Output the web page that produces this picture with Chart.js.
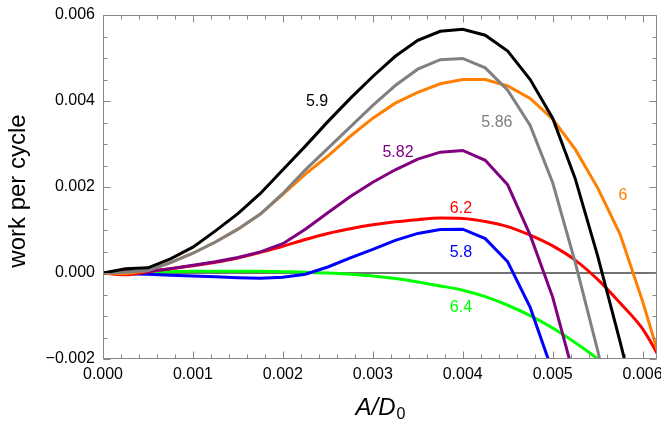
<!DOCTYPE html>
<html><head><meta charset="utf-8">
<script src="https://cdn.jsdelivr.net/npm/chart.js@4/dist/chart.umd.min.js"></script>
<style>html,body{margin:0;padding:0;background:#fff}</style>
</head><body>
<canvas id="c" width="661" height="424"></canvas>
<script>
// ---- data ----
const xValues = [0,0.00025,0.0005,0.00075,0.001,0.00125,0.0015,0.00175,0.002,0.00225,0.0025,0.00275,0.003,0.00325,0.0035,0.00375,0.004,0.00425,0.0045,0.00475,0.005,0.00525,0.0055,0.00575,0.006,0.00625];
const series5_9  = [0,0.0001,0.00012,0.00033,0.0006,0.00098,0.00138,0.00185,0.0024,0.00295,0.00352,0.00406,0.00457,0.00504,0.00541,0.00562,0.00567,0.00553,0.00516,0.0045,0.0036,0.0022,0.0004,-0.0016,-0.0037,null];
const series5_86 = [0,0.00002,0.00006,0.00024,0.00046,0.00072,0.00102,0.00137,0.00185,0.0024,0.0029,0.0034,0.0039,0.00436,0.00474,0.00496,0.00499,0.00477,0.00425,0.00343,0.0021,0.00025,-0.0018,-0.0042,null,null];
const series6    = [0,-0.00002,0.00006,0.00024,0.00046,0.00072,0.00102,0.00137,0.00183,0.0023,0.00272,0.00318,0.0036,0.00395,0.0042,0.0044,0.0045,0.0045,0.00435,0.00406,0.00358,0.00288,0.00198,0.0009,-0.00066,-0.0024];
const series5_82 = [0,0.00004,0.00004,0.0001,0.00018,0.00026,0.00036,0.00049,0.00068,0.00102,0.0014,0.00178,0.00211,0.0024,0.00265,0.00281,0.00285,0.00262,0.00205,0.00088,-0.00056,-0.0025,null,null,null,null];
const series6_2  = [0,-0.00004,0.00003,0.0001,0.00017,0.00025,0.00035,0.00048,0.00062,0.00078,0.00092,0.00103,0.00112,0.00119,0.00124,0.00128,0.00127,0.0012,0.00108,0.00088,0.00063,0.0003,-0.00015,-0.0007,-0.0013,-0.0022];
const series5_8  = [0,-0.00002,-0.00003,-0.00005,-0.00007,-0.00009,-0.00011,-0.00012,-0.0001,-0.00003,0.00014,0.00035,0.00055,0.00076,0.00092,0.00101,0.00102,0.0008,0.00026,-0.0008,-0.0023,null,null,null,null,null];
const series6_4  = [0,-0.00002,0.00002,0.00003,0.00004,0.00004,0.00004,0.00004,0.00003,0.00002,0,-0.00003,-0.00007,-0.00013,-0.00021,-0.0003,-0.0004,-0.00055,-0.00075,-0.00099,-0.00128,-0.00162,-0.002,-0.0025,null,null];
const seriesNames = ["5.9","5.86","6","5.82","6.2","5.8","6.4"];
const xTickValues = [0,0.001,0.002,0.003,0.004,0.005,0.006];
const yTickValues = [-0.002,0,0.002,0.004,0.006];
// label anchor points (data coordinates) for the curve labels
const labelX = [0.00238,0.00438,0.00578,0.00328,0.00398,0.00398,0.00398];
const labelY = [0.00399,0.00350,0.00181,0.00280,0.00150,0.00048,-0.00080];

const colors = ["#000000","#808080","#FF8000","#800080","#FF0000","#0000FF","#00FF00"];
const allSeries = [series5_9,series5_86,series6,series5_82,series6_2,series5_8,series6_4];
const FONT = "'Liberation Sans', Arial, sans-serif";

const datasets = allSeries.map((s,i)=>({
  label: seriesNames[i],
  data: xValues.map((x,j)=>({x:x,y:s[j]})),
  borderColor: colors[i],
  borderWidth: 3,
  pointRadius: 0,
  fill: false,
  spanGaps: false,
  tension: 0,
  cubicInterpolationMode: (i===4||i===6) ? 'monotone' : 'default'
}));

function fmtY(v){ const s=Math.abs(v).toFixed(3); return v<0 ? "\u2212"+s : s; }

const zeroPlugin = {
  id:'zeroLine',
  beforeDatasetsDraw(chart){
    const {ctx, chartArea:a, scales:{y}} = chart;
    ctx.save();
    const y0 = y.getPixelForValue(0);
    ctx.strokeStyle = '#444444'; ctx.lineWidth = 1.5;
    ctx.beginPath(); ctx.moveTo(a.left,y0); ctx.lineTo(a.right,y0); ctx.stroke();
    ctx.restore();
  }
};

const framePlugin = {
  id:'frameTicks',
  afterDraw(chart){
    const {ctx, chartArea:a, scales:{x,y}} = chart;
    ctx.save();
    ctx.strokeStyle = '#888888';
    ctx.lineWidth = 1;
    const L = Math.round(a.left)+0.5, R = Math.round(a.right)-0.5;
    const T = Math.round(a.top)+0.5, B = Math.round(a.bottom)-0.5;
    ctx.strokeRect(L, T, R-L, B-T);
    ctx.beginPath();
    for(let k=0;k<=31;k++){
      const v = k*0.0002; if (v > x.max+1e-12) break;
      const px = Math.round(x.getPixelForValue(v))+0.5;
      const len = (k%5===0)?7:4;
      ctx.moveTo(px,B); ctx.lineTo(px,B-len);
      ctx.moveTo(px,T); ctx.lineTo(px,T+len);
    }
    for(let k=0;k<=16;k++){
      const v = -0.002 + k*0.0005;
      const py = Math.round(y.getPixelForValue(v))+0.5;
      const len = (k%4===0)?7:4;
      ctx.moveTo(L,py); ctx.lineTo(L+len,py);
      ctx.moveTo(R,py); ctx.lineTo(R-len,py);
    }
    ctx.stroke();
    ctx.restore();
  },
  afterDatasetsDraw(chart){
    const {ctx, chartArea:a, scales:{x,y}} = chart;
    ctx.save();
    ctx.font = '16px '+FONT;
    ctx.textAlign='center'; ctx.textBaseline='middle';
    seriesNames.forEach((n,i)=>{
      ctx.fillStyle = colors[i];
      ctx.fillText(n, x.getPixelForValue(labelX[i]), y.getPixelForValue(labelY[i]));
    });
    ctx.fillStyle='#000';
    ctx.save();
    ctx.translate(18,(a.top+a.bottom)/2+4);
    ctx.rotate(-Math.PI/2);
    ctx.font='24px '+FONT;
    ctx.fillText('work per cycle',0,0);
    ctx.restore();
    const cx = (a.left+a.right)/2;
    ctx.font='italic 24px '+FONT;
    const main='A/D';
    const w1=ctx.measureText(main).width;
    ctx.font='16px '+FONT;
    const w2=ctx.measureText('0').width;
    const start = cx-(w1+w2)/2;
    ctx.textAlign='left'; ctx.textBaseline='alphabetic';
    ctx.font='italic 24px '+FONT;
    ctx.fillText(main,start,415);
    ctx.font='16px '+FONT;
    ctx.fillText('0',start+w1+1,419);
    ctx.restore();
  }
};

new Chart(document.getElementById('c'),{
  type:'line',
  data:{datasets},
  options:{
    responsive:false, animation:false, devicePixelRatio:1,
    layout:{padding:{top:15,right:4,left:0,bottom:0}},
    plugins:{legend:{display:false},tooltip:{enabled:false}},
    scales:{
      x:{type:'linear',min:0,max:0.00616,
        grid:{display:false,drawTicks:false}, border:{display:false},
        afterBuildTicks:s=>{s.ticks = xTickValues.map(v=>({value:v}));},
        afterFit:s=>{s.height=65; s.paddingLeft=0; s.paddingRight=0;},
        ticks:{color:'#000',font:{family:FONT,size:16},padding:6,maxRotation:0,autoSkip:false,
          callback:v=>Number(v).toFixed(3)}
      },
      y:{type:'linear',min:-0.002,max:0.006,
        grid:{display:false,drawTicks:false}, border:{display:false},
        afterBuildTicks:s=>{s.ticks = yTickValues.map(v=>({value:v}));},
        afterFit:s=>{s.width=103; s.paddingTop=0; s.paddingBottom=0;},
        ticks:{color:'#000',font:{family:FONT,size:16},padding:8,autoSkip:false,
          callback:v=>fmtY(Number(v))}
      }
    }
  },
  plugins:[zeroPlugin, framePlugin]
});
</script>
</body></html>
